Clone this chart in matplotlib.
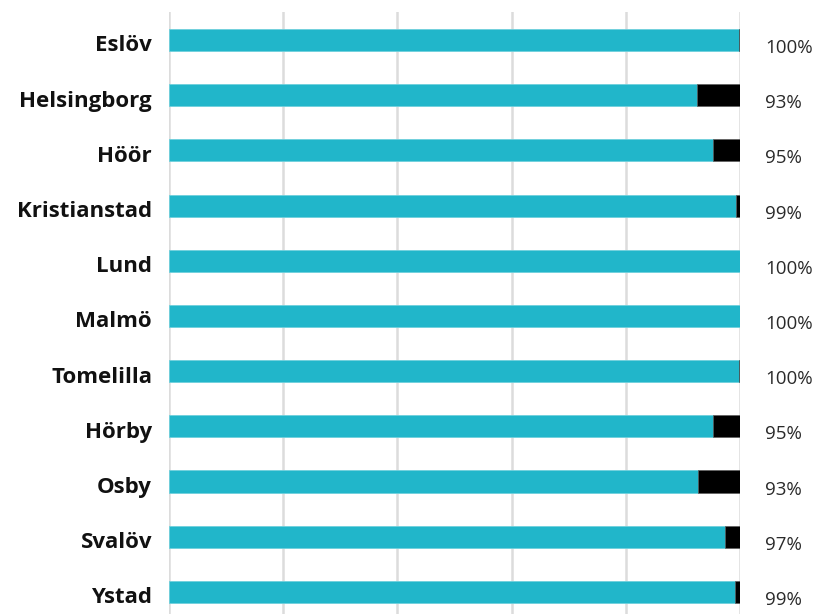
import matplotlib
matplotlib.use("Agg")
import matplotlib.pyplot as plt

categories = ["Eslöv", "Helsingborg", "Höör", "Kristianstad", "Lund", "Malmö",
              "Tomelilla", "Hörby", "Osby", "Svalöv", "Ystad"]
share_yes = [99.8, 92.5, 95.3, 99.3, 100.0, 100.0, 99.8, 95.2, 92.6, 97.4, 99.2]
share_no = [100 - v for v in share_yes]
pct_labels = ["100%", "93%", "95%", "99%", "100%", "100%", "100%", "95%", "93%", "97%", "99%"]

fig = plt.figure(figsize=(8.18, 6.14), dpi=100)
ax = fig.add_axes([169 / 818, 0, (740 - 169) / 818, 1 - 12 / 614])

y = list(range(len(categories)))
ax.barh(y, share_yes, height=0.4, color="#21B6CA", edgecolor="#6fd0dc", linewidth=0.6, zorder=3)
ax.barh(y, share_no, left=share_yes, height=0.4, color="#000000", edgecolor="#555555",
        linewidth=0.4, zorder=3)

ax.set_xlim(0, 100)
ax.set_ylim(10.4, -0.507)
ax.set_xticks([0, 20, 40, 60, 80, 100])
ax.xaxis.grid(True, color="#dcdcdc", linewidth=1.8, zorder=0)
ax.tick_params(axis="both", length=0, labelbottom=False, labelleft=False)
for s in ax.spines.values():
    s.set_visible(False)

off = 6 / 55.2
off_pct = 8 / 55.2
for i, (cat, lab) in enumerate(zip(categories, pct_labels)):
    ax.text(-17 / 5.71, i + off, cat, ha="right", va="center", fontsize=16,
            fontweight="bold", family="Open Sans", color="#111111")
    ax.text(100 + 25 / 5.71, i + off_pct, lab, ha="left", va="center", fontsize=13.5,
            family="Open Sans", color="#2a2a2a")

fig.savefig("out.png", dpi=100)
